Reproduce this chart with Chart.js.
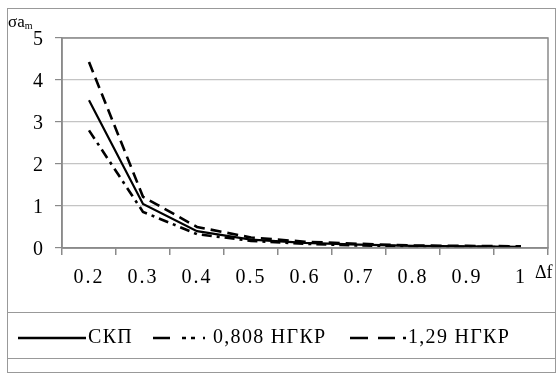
<!DOCTYPE html>
<html>
<head>
<meta charset="utf-8">
<script src="https://cdn.jsdelivr.net/npm/chart.js@4/dist/chart.umd.min.js"></script>
<style>
  html, body { margin:0; padding:0; background:#fff; }
  #wrap { position:relative; width:560px; height:377px; font-family:"Liberation Serif","Times New Roman",serif; }
  #frame { position:absolute; left:7px; top:8px; width:549px; height:365px; border:1px solid #999; box-sizing:border-box; }
  .hl { position:absolute; left:7px; width:549px; height:0; border-top:1px solid #999; }
  #ylab { position:absolute; left:8px; top:13px; font-size:17px; line-height:17px; }
  #ylab sub { font-size:10px; line-height:10px; vertical-align:-2px; }
  #xlab { position:absolute; left:535px; top:262px; font-size:18px; }
  #legend { position:absolute; top:325px; left:0; width:560px; height:24px; font-size:20px; letter-spacing:1.3px; }
  .li { position:absolute; top:0; white-space:nowrap; }
  .li svg { vertical-align:middle; margin-right:2px; }
</style>
</head>
<body>
<div id="wrap">
  <div id="frame"></div>
  <div class="hl" style="top:312px"></div>
  <div class="hl" style="top:358px"></div>
  <canvas id="chart" width="560" height="377" style="position:absolute;left:0;top:0"></canvas>
  <div id="ylab">σa<sub>m</sub></div>
  <div id="xlab">Δf</div>
  <div id="legend"></div>
</div>
<script>
// --- data ---
const categories = ["0.2","0.3","0.4","0.5","0.6","0.7","0.8","0.9","1"];
const skp    = [3.52, 1.05, 0.40, 0.20, 0.12, 0.08, 0.05, 0.04, 0.03];
const ngkr08 = [2.80, 0.86, 0.33, 0.17, 0.10, 0.06, 0.04, 0.03, 0.02];
const ngkr12 = [4.43, 1.22, 0.50, 0.25, 0.15, 0.10, 0.06, 0.05, 0.04];
const yTicks = [0, 1, 2, 3, 4, 5];
const seriesNames = ["СКП", "0,808 НГКР", "1,29 НГКР"];

// --- plot box + wider text spacing ---
const boxPlugin = {
  id: "box",
  beforeDraw(c) { c.ctx.letterSpacing = "2px"; },
  afterDraw(c) {
    const a = c.chartArea, ctx = c.ctx;
    ctx.save();
    ctx.strokeStyle = "#8a8a8a";
    ctx.lineWidth = 1.5;
    ctx.strokeRect(a.left, a.top, a.right - a.left, a.bottom - a.top);
    ctx.restore();
  }
};

const ctx = document.getElementById("chart").getContext("2d");
new Chart(ctx, {
  type: "line",
  data: {
    labels: categories,
    datasets: [
      { label: seriesNames[0], data: skp, borderColor:"#000", borderWidth:2.2, pointRadius:0, tension:0 },
      { label: seriesNames[1], data: ngkr08, borderColor:"#000", borderWidth:2.6, pointRadius:0, borderDash:[10,5,3,5], tension:0 },
      { label: seriesNames[2], data: ngkr12, borderColor:"#000", borderWidth:2.6, pointRadius:0, borderDash:[11,6], tension:0 }
    ]
  },
  options: {
    animation:false,
    responsive:false,
    layout:{ padding:{ left:0, right:12, top:38, bottom:89 } },
    plugins:{ legend:{display:false}, tooltip:{enabled:false} },
    scales:{
      x:{
        offset:true,
        afterFit: s => { s.height = 40; },
        grid:{ offset:true, drawOnChartArea:false, drawTicks:true, tickLength:7, color:"#8a8a8a", lineWidth:1.5 },
        border:{ color:"#8a8a8a", width:1.5 },
        ticks:{ color:"#000", padding:11, font:{ family:"Liberation Serif", size:20 }, maxRotation:0 }
      },
      y:{
        min:0, max:5,
        afterFit: s => { s.width = 62; },
        afterBuildTicks: s => { s.ticks = yTicks.map(v => ({value:v})); },
        grid:{ color:"#c4c4c4", lineWidth:1.2, tickLength:7, tickColor:"#8a8a8a" },
        border:{ color:"#8a8a8a", width:1.5 },
        ticks:{ color:"#000", padding:10, labelOffset:2, font:{ family:"Liberation Serif", size:20 } }
      }
    }
  },
  plugins:[boxPlugin]
});

// --- legend ---
const legendItems = [
  { x:18,  w:68, dash:"",              text:seriesNames[0] },
  { x:153, w:58, dash:"17,12,4,5,4,8,2,10", text:seriesNames[1] },
  { x:350, w:56, dash:"18,10,17,8,3,10",    text:seriesNames[2] }
];
const lg = document.getElementById("legend");
legendItems.forEach(it => {
  const d = document.createElement("div");
  d.className = "li";
  d.style.left = it.x + "px";
  d.innerHTML = `<svg width="${it.w}" height="10"><line x1="0" y1="5" x2="${it.w}" y2="5" stroke="#000" stroke-width="2.5" ${it.dash ? `stroke-dasharray="${it.dash}"` : ""}/></svg>${it.text}`;
  lg.appendChild(d);
});
</script>
</body>
</html>
